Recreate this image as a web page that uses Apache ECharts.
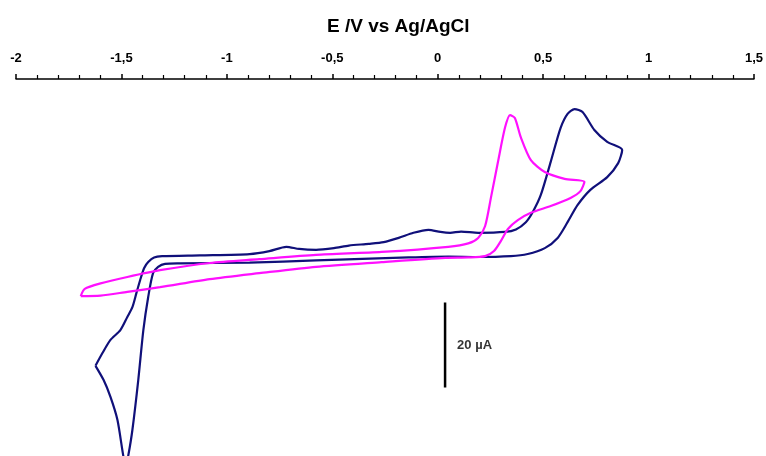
<!DOCTYPE html>
<html><head><meta charset="utf-8">
<script src="https://cdn.jsdelivr.net/npm/echarts@6/dist/echarts.min.js"></script>
<style>html,body{margin:0;padding:0;background:#fff}#c{width:766px;height:456px}</style>
</head><body><div id="c"></div>
<script>
// Potential (V vs Ag/AgCl) and current (µA)
const navyE = [-1.623,-1.590,-1.552,-1.505,-1.472,-1.448,-1.429,-1.411,-1.392,-1.373,-1.345,-1.307,-1.128,-0.892,-0.798,-0.718,-0.657,-0.577,-0.492,-0.421,-0.327,-0.256,-0.185,-0.115,-0.044,0.013,0.059,0.111,0.192,0.319,0.371,0.418,0.451,0.489,0.536,0.583,0.616,0.649,0.687,0.743,0.804,0.875,0.856,0.804,0.724,0.663,0.616,0.569,0.508,0.427,0.347,0.192,0.051,-0.138,-0.577,-0.892,-1.222,-1.293,-1.326,-1.350,-1.373,-1.396,-1.420,-1.448,-1.467,-1.479,-1.491,-1.519,-1.552,-1.585,-1.623];
const navyI = [-24.9,-21.9,-18.8,-16.5,-13.4,-11.1,-7.8,-4.7,-1.9,-0.5,0.6,0.9,1.1,1.4,2.1,3.1,2.6,2.4,2.8,3.4,3.8,4.2,5.2,6.4,7.1,6.6,6.4,6.7,6.4,6.6,7.2,8.9,11.3,15.3,23.1,31.1,34.4,35.5,34.8,30.6,27.8,25.9,22.8,19.5,16.5,12.9,8.9,5.2,2.8,1.4,0.9,0.7,0.8,0.6,-0.1,-0.6,-0.8,-0.9,-1.6,-3.1,-8.7,-16.5,-28.2,-40.0,-45.9,-48.5,-46.1,-37.6,-32.2,-28.2,-24.9];
const magentaE = [-1.693,-1.674,-1.599,-1.472,-1.317,-1.081,-0.846,-0.577,-0.266,0.050,0.145,0.192,0.225,0.253,0.286,0.319,0.343,0.366,0.394,0.442,0.508,0.602,0.696,0.677,0.630,0.536,0.442,0.380,0.333,0.300,0.267,0.225,0.145,0.036,-0.266,-0.577,-0.846,-1.081,-1.317,-1.472,-1.599,-1.693];
const magentaI = [-8.5,-6.8,-5.5,-4.0,-2.4,-0.7,0.2,1.2,1.9,3.1,3.9,5.2,8.0,14.8,23.1,31.1,34.1,33.4,28.9,23.5,20.7,19.1,18.4,16.2,14.6,12.7,11.1,9.4,7.3,4.5,2.1,0.9,0.6,0.5,-0.5,-1.6,-3.1,-4.5,-6.4,-7.5,-8.4,-8.5];
const scaleBarE = [0.035, 0.035];
const scaleBarI = [-10, -30];
const scaleLabel = '20 µA';
const xTicks = [-2, -1.5, -1, -0.5, 0, 0.5, 1, 1.5];

const zip = (a, b) => a.map((v, i) => [v, b[i]]);
const chart = echarts.init(document.getElementById('c'));
chart.setOption({
  animation: false,
  backgroundColor: '#fff',
  title: {text: 'E /V vs Ag/AgCl', left: 322, top: 12,
    textStyle: {fontFamily: 'Liberation Sans, Arial', fontSize: 19, fontWeight: 'bold', color: '#000'}},
  grid: {left: 16, right: 8, top: 79, bottom: 0, containLabel: false},
  xAxis: {
    type: 'value', position: 'top', min: xTicks[0], max: xTicks[xTicks.length-1], interval: 0.5,
    axisLine: {show: true, onZero: false, lineStyle: {color: '#000', width: 1.5}},
    axisTick: {show: true, inside: false, length: 5, lineStyle: {color: '#000', width: 1.5}},
    minorTick: {show: true, splitNumber: 5, length: 4, lineStyle: {color: '#000', width: 1.2}},
    splitLine: {show: false},
    axisLabel: {margin: 14, color: '#000', fontFamily: 'Liberation Sans, Arial', fontSize: 13, fontWeight: 'bold',
      formatter: v => String(v).replace('.', ',')}
  },
  yAxis: {type: 'value', min: -46.12, max: 42.59, show: false, splitLine: {show: false}},
  series: [
    {type: 'line', data: zip(navyE, navyI), showSymbol: false, smooth: 0.25,
      lineStyle: {color: '#10107a', width: 2.2}},
    {type: 'line', data: zip(magentaE, magentaI), showSymbol: false, smooth: 0.25,
      lineStyle: {color: '#ff10ff', width: 2.2}},
    {type: 'line', data: zip(scaleBarE, scaleBarI), showSymbol: false,
      lineStyle: {color: '#000', width: 2.5}},
    {type: 'scatter', data: [[scaleBarE[0], (scaleBarI[0] + scaleBarI[1]) / 2]], symbolSize: 0,
      label: {show: true, position: 'right', distance: 12, formatter: scaleLabel, color: '#000',
        fontFamily: 'Liberation Sans, Arial', fontSize: 13, fontWeight: 'bold'}}
  ]
});
</script></body></html>
